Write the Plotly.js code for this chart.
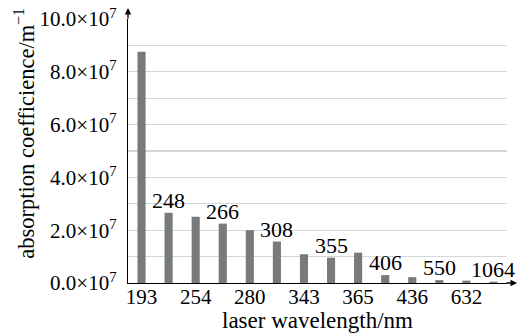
<!DOCTYPE html>
<html>
<head>
<meta charset="utf-8">
<script src="https://cdn.plot.ly/plotly-3.0.1.min.js"></script>
<style>html,body{margin:0;padding:0;background:#fff;}#chart{width:528px;height:334px;}</style>
</head>
<body>
<div id="chart"></div>
<script>
// wavelength categories (nm)
const categories = ['193','248','254','266','280','308','343','355','365','406','436','550','632','1064'];
// absorption coefficient (m^-1)
const values = [8.76e7, 2.66e7, 2.51e7, 2.25e7, 2.00e7, 1.57e7, 1.09e7, 0.96e7, 1.15e7, 0.30e7, 0.22e7, 0.11e7, 0.09e7, 0.05e7];
// labels drawn under the axis
const axisLabels = ['193','254','280','343','365','436','632'];
// labels drawn above the bars
const barLabels = ['248','266','308','355','406','550','1064'];
// y ticks
const yTickVals = [0, 2e7, 4e7, 6e7, 8e7, 10e7];
const yTickText = ['0.0×10<sup>7</sup>','2.0×10<sup>7</sup>','4.0×10<sup>7</sup>','6.0×10<sup>7</sup>','8.0×10<sup>7</sup>','10.0×10<sup>7</sup>'];

const FONT = 'Liberation Serif';
const GRID = '#d3d7d9';

const barAnn = barLabels.map(lab => {
  const i = categories.indexOf(lab);
  return {x: i, y: values[i], xref: 'x', yref: 'y', text: lab, showarrow: false,
          yanchor: 'bottom', xanchor: 'center', yshift: -2,
          font: {family: FONT, size: 22, color: '#000'}};
});

const arrows = [
  {xref: 'paper', yref: 'paper', x: 0, y: 1 + 11/264, axref: 'pixel', ayref: 'pixel', ax: 0, ay: 12,
   text: '', showarrow: true, arrowhead: 2, arrowsize: 1, arrowwidth: 1.3, arrowcolor: '#000'},
  {xref: 'paper', yref: 'paper', x: 1 + 10/379, y: 0, axref: 'pixel', ayref: 'pixel', ax: -12, ay: 0,
   text: '', showarrow: true, arrowhead: 2, arrowsize: 1, arrowwidth: 1.3, arrowcolor: '#000'},
  {xref: 'paper', yref: 'paper', x: 0, xshift: -104, y: (283.3 - 134) / 264, textangle: -90,
   text: 'absorption coefficience/m<sup>−1</sup>', showarrow: false, xanchor: 'center', yanchor: 'middle',
   font: {family: FONT, size: 22.5, color: '#000'}}
];

const trace = {
  type: 'bar', x: categories, y: values, width: 0.3,
  marker: {color: '#777b7e', line: {width: 0}},
  hoverinfo: 'x+y'
};

const layout = {
  width: 528, height: 334,
  margin: {l: 128, r: 21, t: 19, b: 51},
  paper_bgcolor: '#fff', plot_bgcolor: '#fff',
  showlegend: false,
  font: {family: FONT, color: '#000', size: 21},
  xaxis: {
    type: 'category', range: [-0.5, 13.5],
    tickvals: axisLabels, ticktext: axisLabels,
    showgrid: false, zeroline: false,
    showline: true, linecolor: '#000', linewidth: 1.3,
    ticks: '', ticklabelstandoff: -6,
    tickfont: {family: FONT, size: 21, color: '#000'},
    title: {text: 'laser wavelength/nm', font: {family: FONT, size: 23, color: '#000'}, standoff: 3},
    automargin: false
  },
  yaxis: {
    range: [0, 1e8],
    tickvals: yTickVals, ticktext: yTickText,
    showgrid: true, gridcolor: GRID, gridwidth: 1.3,
    minor: {dtick: 1e7, tick0: 0, showgrid: true, gridcolor: GRID, gridwidth: 1.3, ticks: ''},
    zeroline: false,
    showline: true, linecolor: '#000', linewidth: 1.3,
    ticks: '', ticklabelstandoff: 6,
    tickfont: {family: FONT, size: 21, color: '#000'},
    automargin: false
  },
  annotations: barAnn.concat(arrows)
};

Plotly.newPlot('chart', [trace], layout, {displayModeBar: false, staticPlot: true});
</script>
</body>
</html>
